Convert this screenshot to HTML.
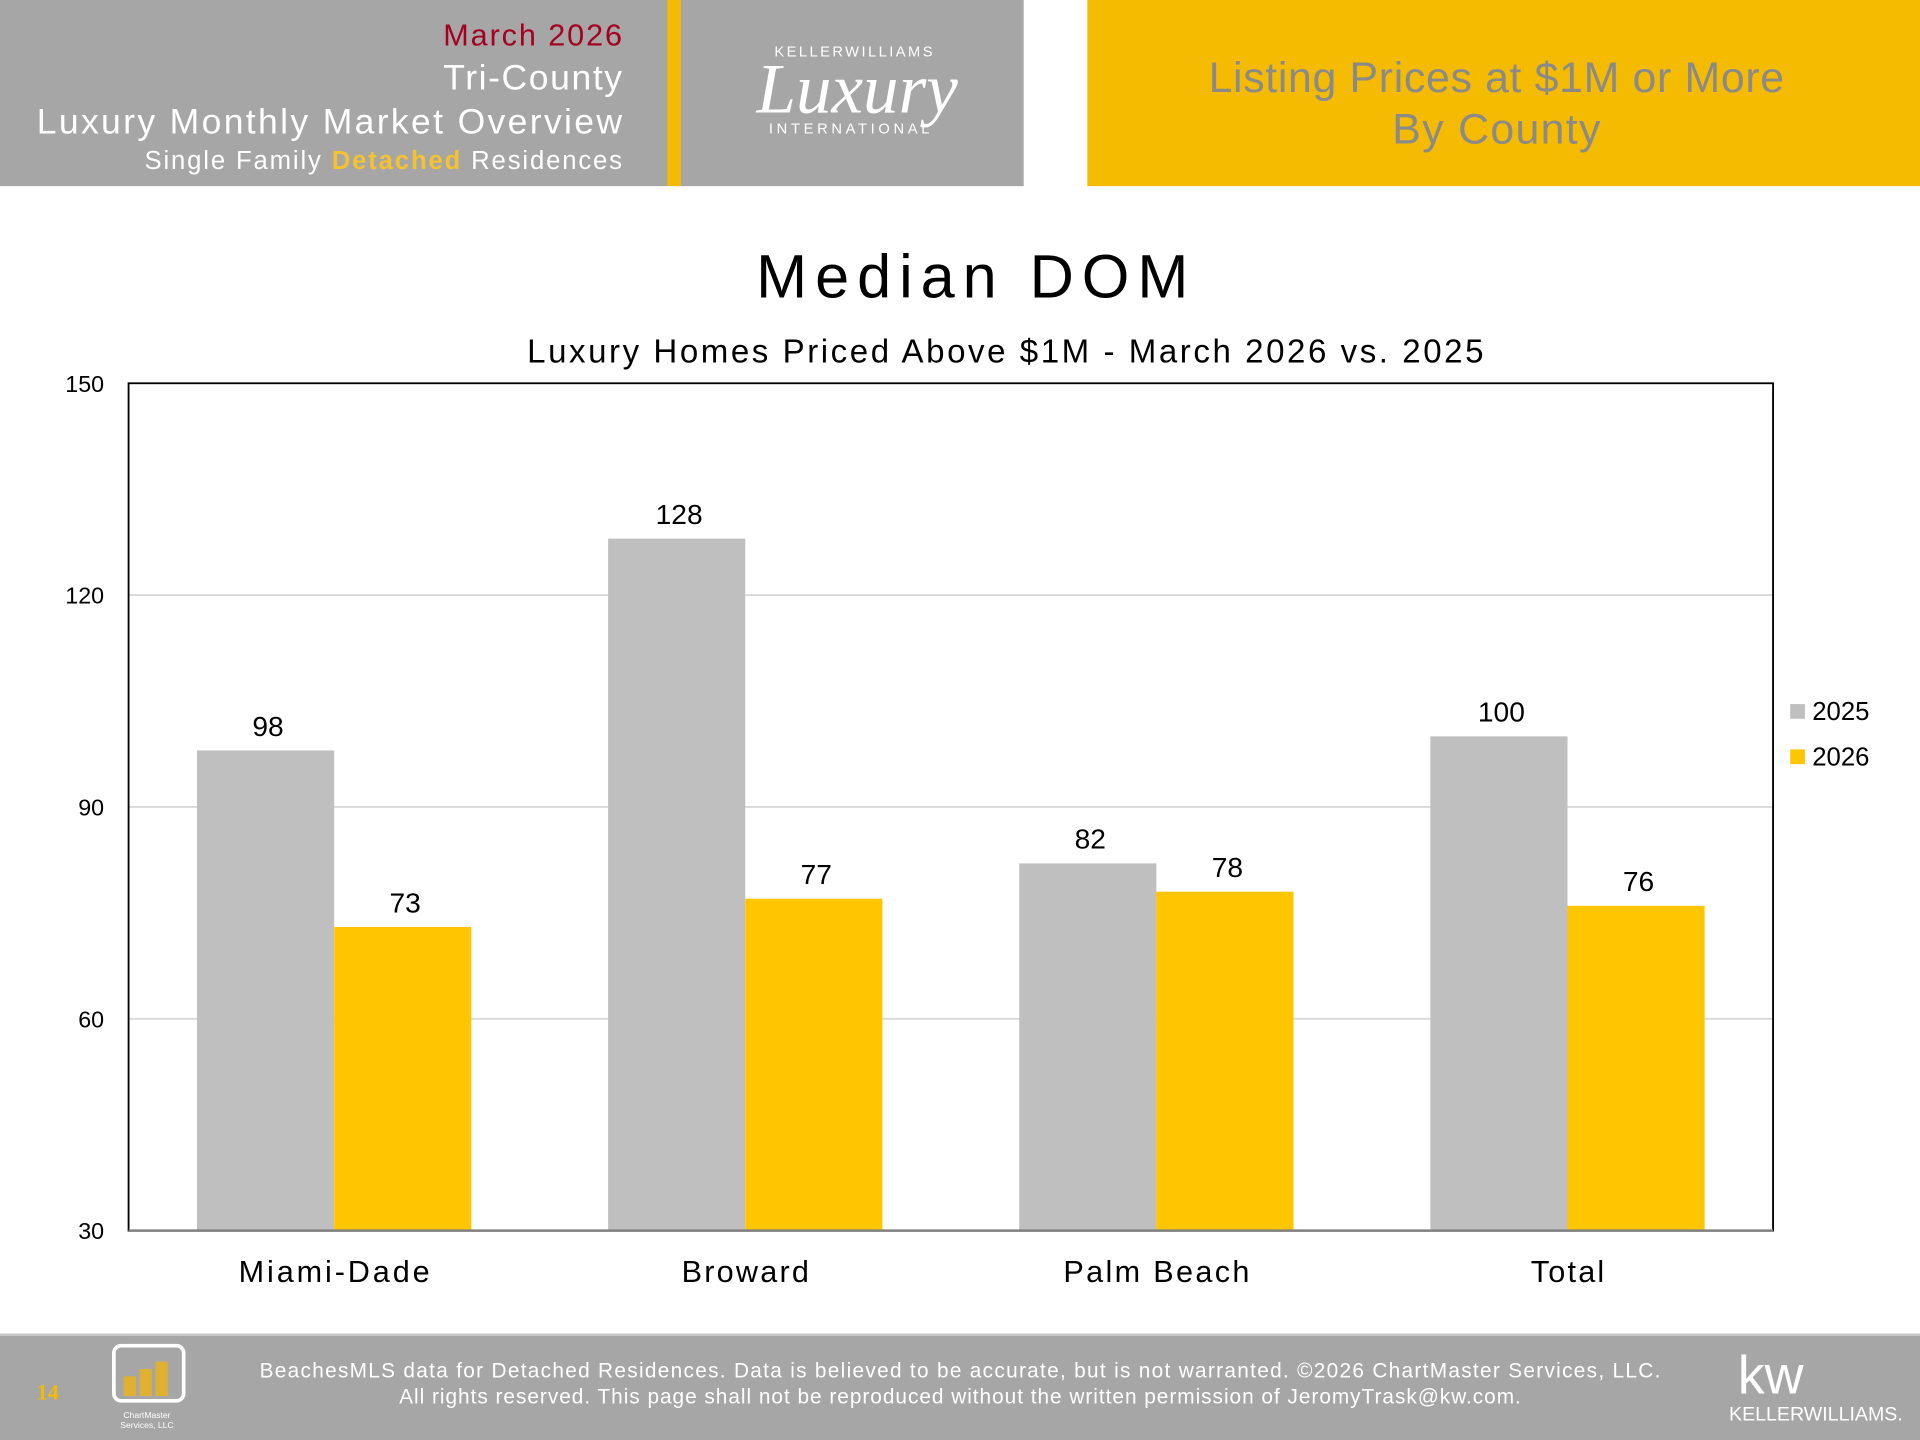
<!DOCTYPE html>
<html><head><meta charset="utf-8"><style>
html,body{margin:0;padding:0;background:#fff;}
svg{display:block;font-family:"Liberation Sans",sans-serif;}
</style></head><body>
<svg width="1920" height="1440" viewBox="0 0 1568 1176">
<g>
<rect x="0" y="0" width="836" height="152" fill="#a6a6a6"/>
<rect x="545" y="0" width="11" height="152" fill="#f5bb00"/>
<text x="508" y="37" text-anchor="end" font-size="25" fill="#a50021" textLength="146">March 2026</text>
<text x="508" y="73" text-anchor="end" font-size="29" fill="#fff" textLength="146">Tri-County</text>
<text x="508" y="109" text-anchor="end" font-size="29" fill="#fff" textLength="478">Luxury Monthly Market Overview</text>
<text x="508" y="138" text-anchor="end" font-size="21" fill="#fff" textLength="390">Single Family <tspan fill="#f5c330" font-weight="bold">Detached</tspan> Residences</text>
<text x="698" y="46" text-anchor="middle" font-size="12" fill="#fff" letter-spacing="2">KELLERWILLIAMS</text>
<text x="700" y="92" text-anchor="middle" font-size="58" font-style="italic" font-family="Liberation Serif,serif" fill="#fff">Luxury</text>
<text x="695" y="109" text-anchor="middle" font-size="12" fill="#fff" letter-spacing="3">INTERNATIONAL</text>
<rect x="888" y="0" width="680" height="152" fill="#f5bb00"/>
<text x="1222" y="75" text-anchor="middle" font-size="35" fill="#8a8a8a" textLength="470">Listing Prices at $1M or More</text>
<text x="1222" y="117" text-anchor="middle" font-size="35" fill="#8a8a8a" textLength="170">By County</text>
</g>
<text x="794" y="243" text-anchor="middle" font-size="50" fill="#000" textLength="353">Median DOM</text>
<text x="821" y="296" text-anchor="middle" font-size="27" fill="#000" textLength="781">Luxury Homes Priced Above $1M - March 2026 vs. 2025</text>
<g id="chart"></g>
<g>
<rect x="0" y="1090" width="1568" height="86" fill="#a6a6a6"/>
<rect x="0" y="1089" width="1568" height="2" fill="#c8c8c8"/>
<text x="30" y="1143" font-size="18" fill="#f5bb00" font-family="Liberation Serif,serif" font-weight="bold">14</text>
<rect x="93" y="1099" width="57" height="45" rx="6" fill="none" stroke="#fff" stroke-width="3"/>
<rect x="101" y="1124" width="10" height="16" fill="#e0b030"/>
<rect x="114" y="1118" width="10" height="22" fill="#e0b030"/>
<rect x="127" y="1112" width="10" height="28" fill="#e0b030"/>
<text x="120" y="1158" text-anchor="middle" font-size="7" fill="#fff">ChartMaster</text>
<text x="120" y="1166" text-anchor="middle" font-size="7" fill="#fff">Services, LLC</text>
<text x="784" y="1125" text-anchor="middle" font-size="17" fill="#fff" textLength="1144">BeachesMLS data for Detached Residences.  Data is believed to be accurate, but is not warranted.   ©2026  ChartMaster Services, LLC.</text>
<text x="784" y="1146" text-anchor="middle" font-size="17" fill="#fff" textLength="916">All rights reserved. This page shall not be reproduced without the written permission of JeromyTrask@kw.com.</text>
<text x="1446" y="1138" text-anchor="middle" font-size="44" fill="#fff">kw</text>
<text x="1483" y="1160" text-anchor="middle" font-size="16" fill="#fff">KELLERWILLIAMS.</text>
</g>
</svg>
<script>
const categories=["Miami-Dade","Broward","Palm Beach","Total"];
const values2025=[98,128,82,100];
const values2026=[73,77,78,76];
const yTicks=[30,60,90,120,150];
const seriesNames=["2025","2026"];
const NS="http://www.w3.org/2000/svg";
const g=document.getElementById("chart");
const L=105,R=1448,T=313,B=1005,yMin=30,yMax=150;
const y=v=>B-(v-yMin)/(yMax-yMin)*(B-T);
const gw=(R-L)/categories.length;
const xc=i=>L+gw*(i+0.5);
const bw=112;
const catWidths=[156,104,152,60];
function el(tag,attrs){const e=document.createElementNS(NS,tag);for(const k in attrs)e.setAttribute(k,attrs[k]);g.appendChild(e);return e;}
yTicks.forEach(t=>{
  if(t!==yMin&&t!==yMax){const l=el("line",{x1:L,x2:R,y1:y(t),y2:y(t),stroke:"#d9d9d9","stroke-width":1.5});
  
  }
  const tx=el("text",{x:85,y:y(t)+7,"text-anchor":"end","font-size":19,fill:"#000"});
  tx.textContent=t;
  
  
});
const colors=["#bfbfbf","#ffc600"];
[values2025,values2026].forEach((vals,s)=>{
  vals.forEach((v,i)=>{
    const x0=s===0?xc(i)-bw:xc(i);
    const r=el("rect",{x:x0,y:y(v),width:bw,height:B-y(v),fill:colors[s]});
    
    
    const t=el("text",{x:x0+bw/2+2,y:y(v)-12,"text-anchor":"middle","font-size":23,fill:"#000"});
    t.textContent=v;
    
    
  });
});
categories.forEach((c,i)=>{
  const t=el("text",{x:xc(i),y:1047,"text-anchor":"middle","font-size":25,fill:"#000",textLength:catWidths[i]});
  t.textContent=c;
  
  
});
const frame=el("rect",{x:L,y:T,width:R-L,height:B-T,fill:"none",stroke:"#000","stroke-width":1.5});


const ax=el("line",{x1:L,x2:R,y1:B,y2:B,stroke:"#808080","stroke-width":2});


seriesNames.forEach((n,s)=>{
  const r=el("rect",{x:1462,y:575+s*37,width:12,height:12,fill:colors[s]});
  
  
  const t=el("text",{x:1480,y:588+s*37,"font-size":21,fill:"#000"});
  t.textContent=n;
  
  
});
</script>
</body></html>
